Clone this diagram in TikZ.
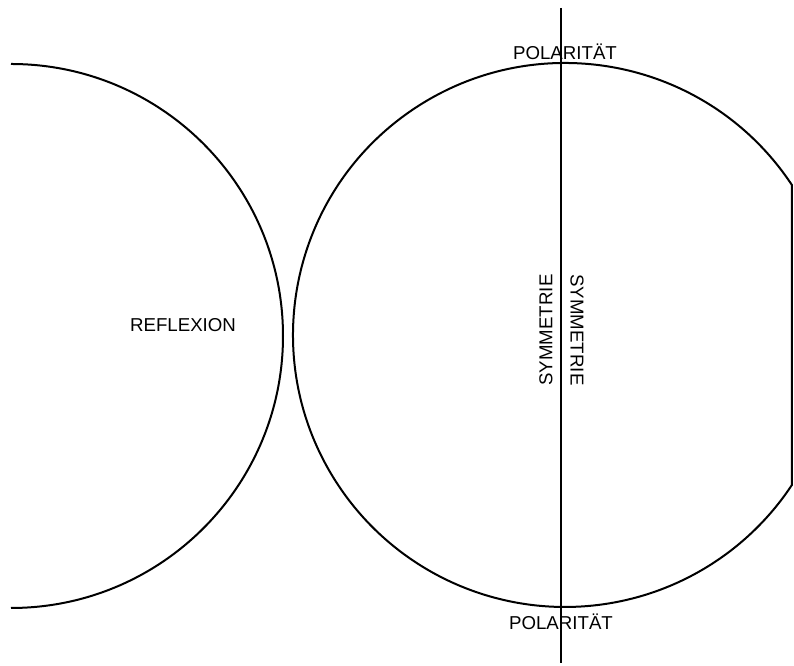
\documentclass[tikz,border=0pt]{standalone}
\usepackage{fontspec}
\setmainfont{Liberation Sans}
\usepackage{tikz}

\begin{document}
\begin{tikzpicture}[x=0.75pt, y=0.75pt, every node/.style={font=\fontsize{14}{16}\selectfont, inner sep=0pt}, rim/.style={draw=black, line width=1.5pt}]
	\useasboundingbox (0,0) rectangle (794,666);
	% the two circles
	\draw[rim] (11,602) arc[start angle=90, end angle=-90, radius=272];
	\draw[rim] (565,331) ++(33.5:272) arc[start angle=33.5, end angle=326.5, radius=272] -- cycle;
	% axis
	\coordinate (axtop) at (561,658);
	\coordinate (axbot) at (561,3);
	\draw[rim] (axtop) -- (axbot);
	\node (reflex) at (183,341) {REFLEXION};
	\node (poltop) at (565,614) {POLARITÄT};
	\node (polbot) at (561,44) {POLARITÄT};
	\node[rotate=90] (symL) at (546,336) {SYMMETRIE};
	\node[rotate=-90] (symR) at (577,336) {SYMMETRIE};
\end{tikzpicture}
\end{document}
